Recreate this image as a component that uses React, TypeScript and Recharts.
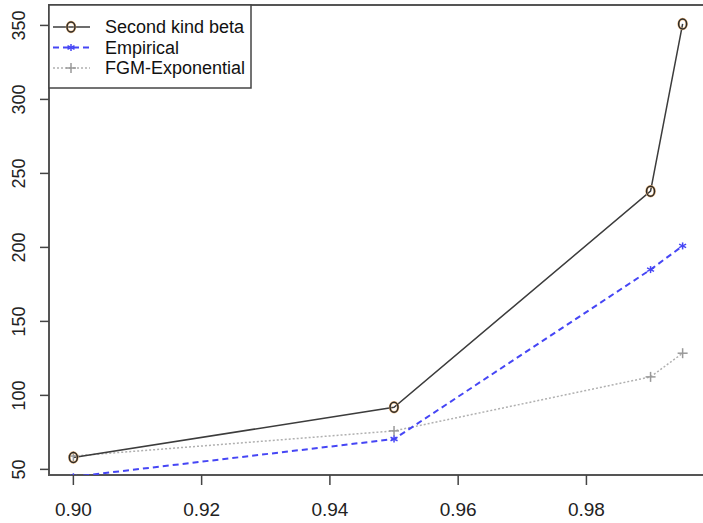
import { LineChart, Line, XAxis, YAxis, ReferenceArea } from 'recharts';

// quantile levels and the three estimates
const levels = [0.9, 0.95, 0.99, 0.995];
const secondKindBeta = [58, 92, 238, 351];
const empirical = [45, 70.5, 185, 201];
const fgmExponential = [59, 76, 112.5, 128.5];

const xTicks = [0.9, 0.92, 0.94, 0.96, 0.98];
const yTicks = [50, 100, 150, 200, 250, 300, 350];
const xDomain = [0.8962, 0.9988];
const yDomain = [46.2, 363.8];

const seriesNames = ['Second kind beta', 'Empirical', 'FGM-Exponential'];

const data = levels.map((p, i) => ({
  p,
  skb: secondKindBeta[i],
  emp: empirical[i],
  fgm: fgmExponential[i],
}));

const FONT = '"Liberation Sans", Arial, sans-serif';
const BLACK = '#3c3c3c';
const BLUE = '#4646f5';
const GRAY = '#b0b0b0';

const CircleDot = (props: any) => {
  const { cx, cy } = props;
  if (cx == null || cy == null) return null;
  return (
    <g>
      <ellipse cx={cx} cy={cy} rx={4} ry={5} fill="none" stroke="#e8b47a" strokeWidth={2.5} />
      <ellipse cx={cx} cy={cy} rx={4} ry={5} fill="none" stroke="#2a2a2a" strokeWidth={1.5} />
    </g>
  );
};

const StarDot = (props: any) => {
  const { cx, cy } = props;
  if (cx == null || cy == null) return null;
  const r = 3.5;
  return (
    <g stroke={BLUE} strokeWidth={1.5}>
      <line x1={cx} y1={cy - r} x2={cx} y2={cy + r} />
      <line x1={cx - r} y1={cy - r * 0.5} x2={cx + r} y2={cy + r * 0.5} />
      <line x1={cx - r} y1={cy + r * 0.5} x2={cx + r} y2={cy - r * 0.5} />
    </g>
  );
};

const PlusDot = (props: any) => {
  const { cx, cy } = props;
  if (cx == null || cy == null) return null;
  const r = 5;
  return (
    <g stroke="#999" strokeWidth={1.5}>
      <line x1={cx - r} y1={cy} x2={cx + r} y2={cy} />
      <line x1={cx} y1={cy - r} x2={cx} y2={cy + r} />
    </g>
  );
};

const XTick = (props: any) => {
  const { x, payload } = props;
  return (
    <text x={x} y={516} textAnchor="middle" fontSize={19} fontFamily={FONT} fill="#222">
      {payload.value.toFixed(2)}
    </text>
  );
};

const YTick = (props: any) => {
  const { y, payload } = props;
  return (
    <text
      x={25}
      y={y}
      transform={`rotate(-90, 25, ${y})`}
      textAnchor="middle"
      fontSize={18}
      fontFamily={FONT}
      fill="#222"
    >
      {payload.value}
    </text>
  );
};

const LegendBox = () => {
  const rows = [
    { name: seriesNames[0], color: BLACK, dash: undefined, width: 1.5, marker: 'o' },
    { name: seriesNames[1], color: BLUE, dash: '6 4', width: 2, marker: '*' },
    { name: seriesNames[2], color: GRAY, dash: '2 2', width: 1.5, marker: '+' },
  ];
  return (
    <svg
      width={206}
      height={86}
      style={{ position: 'absolute', left: 48, top: 4 }}
    >
      <rect x={1} y={1} width={202} height={83} fill="#fff" stroke="#444" strokeWidth={1.5} />
      {rows.map((r, i) => {
        const y = 23 + i * 20.5;
        return (
          <g key={r.name}>
            <line x1={5} y1={y} x2={42} y2={y} stroke={r.color} strokeWidth={r.width} strokeDasharray={r.dash} />
            {r.marker === 'o' && <CircleDot cx={23} cy={y} />}
            {r.marker === '*' && <StarDot cx={23} cy={y} />}
            {r.marker === '+' && <PlusDot cx={23} cy={y} />}
            <text x={57} y={y + 6} fontSize={18} fontFamily={FONT} fill="#111">
              {r.name}
            </text>
          </g>
        );
      })}
    </svg>
  );
};

export default function App() {
  return (
    <div
      style={{
        position: 'fixed',
        left: 0,
        top: 0,
        width: 703,
        height: 523,
        overflow: 'hidden',
        background: '#fff',
      }}
    >
      <LineChart width={712} height={523} data={data} margin={{ top: 5, right: 5, bottom: 0, left: 0 }}>
        <XAxis
          dataKey="p"
          type="number"
          domain={xDomain}
          ticks={xTicks}
          allowDataOverflow
          axisLine={false}
          tickLine={{ stroke: '#444', strokeWidth: 1.5 }}
          tickSize={10}
          height={48}
          tick={<XTick />}
          interval={0}
        />
        <YAxis
          type="number"
          domain={yDomain}
          ticks={yTicks}
          allowDataOverflow
          axisLine={false}
          tickLine={{ stroke: '#444', strokeWidth: 1.5 }}
          tickSize={9}
          width={49}
          tick={<YTick />}
          interval={0}
        />
        <ReferenceArea
          x1={xDomain[0]}
          x2={xDomain[1]}
          y1={yDomain[0]}
          y2={yDomain[1]}
          fill="none"
          fillOpacity={0}
          stroke="#555"
          strokeWidth={2}
        />
        <Line
          dataKey="fgm"
          stroke={GRAY}
          strokeWidth={1.5}
          strokeDasharray="2 2"
          dot={<PlusDot />}
          isAnimationActive={false}
        />
        <Line
          dataKey="emp"
          stroke={BLUE}
          strokeWidth={2}
          strokeDasharray="6 4"
          dot={<StarDot />}
          isAnimationActive={false}
        />
        <Line
          dataKey="skb"
          stroke={BLACK}
          strokeWidth={1.5}
          dot={<CircleDot />}
          isAnimationActive={false}
        />
      </LineChart>
      <LegendBox />
    </div>
  );
}
